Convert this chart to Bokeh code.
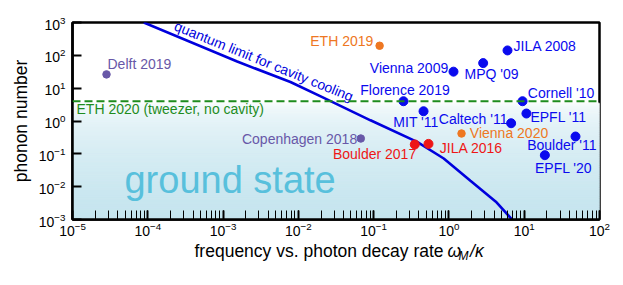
import numpy as np
from bokeh.plotting import figure
from bokeh.models import Span, Range1d
from bokeh.layouts import column
from bokeh.core.properties import value
from bokeh.embed import file_html
from bokeh.resources import INLINE

# ---------------- data ----------------
blue_labels = ["JILA 2008", "MPQ '09", "Vienna 2009", "Florence 2019", "Cornell '10",
               "MIT '11", "EPFL '11", "Caltech '11", "Boulder '11", "EPFL '20"]
blue_x = [6.0, 2.85, 1.15, 0.249, 9.5, 0.46, 10.7, 6.7, 48.0, 18.8]
blue_y = [141, 58, 31.8, 4.0, 4.0, 1.98, 1.69, 0.855, 0.337, 0.091]

red_labels = ["Boulder 2017", "JILA 2016"]
red_x = [0.352, 0.535]
red_y = [0.193, 0.201]

orange_labels = ["ETH 2019", "Vienna 2020"]
orange_x = [0.12, 1.47]
orange_y = [196, 0.416]

purple_labels = ["Delft 2019", "Copenhagen 2018"]
purple_x = [2.83e-5, 0.0675]
purple_y = [26.3, 0.293]

eth2020_n = 4.0

limit_ratio = [8.85e-5, 1.54e-3, 7.85e-3, 2.18e-2, 9.08e-2, 0.378, 0.853, 1.93, 4.2, 6.9]
limit_n = [1000, 64.7, 15.4, 5.05, 1.05, 0.231, 0.072, 0.0152, 0.0035, 0.001]

x_lo, x_hi = 1e-5, 1e2
y_lo, y_hi = 1e-3, 1e3
ground_top = 3.5  # gradient of "ground state" region starts just under this

# ---------------- styling ----------------
FONT = "Liberation Sans"
BLUE = "#0A0AEE"
RED = "#EE1616"
ORANGE = "#EE7722"
PURPLE = "#6858A8"
GREEN = "#1E8C1E"
CURVE = "#0000DD"

# label layout: (dx px, dy px downward, align)
LAYOUT = {
    "Delft 2019": (1, -10.7, "left"),
    "ETH 2019": (-6.3, -4.6, "right"),
    "JILA 2008": (6, -4.3, "left"),
    "MPQ '09": (-18.7, 10.6, "left"),
    "Vienna 2009": (-5.3, -3.6, "right"),
    "Florence 2019": (1.5, -11, "center"),
    "Cornell '10": (5.3, -8.3, "left"),
    "MIT '11": (15, 10.7, "right"),
    "Caltech '11": (-3.7, -4.7, "right"),
    "EPFL '11": (4, 3.4, "left"),
    "Vienna 2020": (8.3, -0.6, "left"),
    "Boulder '11": (21, 8.7, "right"),
    "EPFL '20": (18.7, 13.3, "center"),
    "Copenhagen 2018": (-3.6, 0, "right"),
    "Boulder 2017": (1.4, 9.7, "right"),
    "JILA 2016": (11.3, 4.6, "left"),
}

W = 615
H1 = 241
p = figure(width=W, height=H1, x_axis_type="log", y_axis_type="log",
           x_range=(x_lo, x_hi), y_range=(y_lo, y_hi),
           output_backend="svg", toolbar_location=None,
           min_border_left=72, min_border_right=16, min_border_top=22,
           min_border_bottom=H1 - 219)
p.grid.visible = False
p.outline_line_color = "black"
p.outline_line_width = 2.5
p.background_fill_color = "white"
p.border_fill_color = "white"

# gradient for ground-state region
nstr = 90
ltop, lbot = np.log10(ground_top), np.log10(y_lo)
edges = np.linspace(ltop, lbot, nstr + 1)
base = np.array([196, 228, 238])
white = np.array([255, 255, 255])
cols = []
for i in range(nstr):
    t = (ltop - 0.5 * (edges[i] + edges[i + 1])) / (ltop - lbot)
    f = t ** 0.45
    c = (white + f * (base - white)).round().astype(int)
    cols.append("#%02x%02x%02x" % tuple(c))
p.quad(left=[x_lo] * nstr, right=[x_hi] * nstr, top=list(10 ** edges[:-1]),
       bottom=list(10 ** edges[1:]), fill_color=cols, line_color=cols, line_width=1)

p.text(x=[4.9e-5], y=[0.0165], text=["ground state"], text_font=value(FONT),
       text_font_size="38px", text_color="#58C0DC", text_baseline="middle")

p.add_layout(Span(location=eth2020_n, dimension="width", line_color=GREEN,
                  line_dash="8 4", line_width=1.8))
p.text(x=[x_lo], y=[eth2020_n], text=["ETH 2020 (tweezer, no cavity)"], x_offset=4,
       y_offset=7.3, text_align="left", text_baseline="middle", text_font=value(FONT),
       text_font_size="14px", text_color=GREEN)

p.line(limit_ratio, limit_n, line_color=CURVE, line_width=2.6)
p.text(x=[3.6e-3], y=[60], text=["quantum limit for cavity cooling"], angle=-0.385,
       x_offset=-1, y_offset=-1.5,
       text_align="center", text_baseline="middle", text_font=value(FONT),
       text_font_size="14px", text_color=CURVE)

groups = [
    (purple_labels, purple_x, purple_y, PURPLE, 7.5),
    (orange_labels, orange_x, orange_y, ORANGE, 7.5),
    (blue_labels, blue_x, blue_y, BLUE, 9),
    (red_labels, red_x, red_y, RED, 9),
]
for labs, xs, ys, col, sz in groups:
    p.scatter(xs, ys, size=sz, fill_color=col, line_color=col)
    for i, lab in enumerate(labs):
        dx, dy, al = LAYOUT[lab]
        p.text(x=[xs[i]], y=[ys[i]], text=[lab], x_offset=dx, y_offset=dy,
               text_align=al, text_baseline="middle", text_font=value(FONT),
               text_font_size="14px", text_color=col)

# axes
for ax in (p.xaxis[0], p.yaxis[0]):
    ax.axis_line_width = 2.5
    ax.axis_line_color = "black"
    ax.major_tick_in = 9
    ax.major_tick_out = 0
    ax.major_tick_line_width = 2
    ax.major_label_text_font = FONT
    ax.major_label_text_font_size = "14px"
    ax.major_label_text_color = "black"
    ax.major_label_standoff = 3
p.xaxis.major_label_standoff = 2
p.xaxis.minor_tick_in = 9
p.xaxis.minor_tick_out = 0
p.xaxis.minor_tick_line_width = 1
p.yaxis.minor_tick_line_color = None
p.yaxis.axis_label = "phonon number"
p.yaxis.axis_label_text_font = FONT
p.yaxis.axis_label_text_font_size = "17.5px"
p.yaxis.axis_label_text_font_style = "normal"
p.yaxis.axis_label_text_color = "black"
p.yaxis.axis_label_standoff = 5

# x-axis label strip (plain text + italic ω_M/κ with subscript), pixel coordinates
H2 = 40
q = figure(width=W, height=H2, x_range=Range1d(0, W), y_range=Range1d(0, H2),
           output_backend="svg", toolbar_location=None,
           x_axis_location=None, y_axis_location=None,
           min_border_left=0, min_border_right=0, min_border_top=0, min_border_bottom=0)
q.grid.visible = False
q.outline_line_color = None
q.border_fill_color = "white"
q.background_fill_color = "white"
mid_y = H2 - (250.5 - H1)
parts = [  # (text, x, vertical shift, size, style, align)
    ("frequency vs. photon decay rate", 433, 0, "17.5px", "normal", "right"),
    ("ω", 437.5, 0, "17.5px", "italic", "left"),
    ("M", 450.5, -5, "12px", "italic", "left"),
    ("/κ", 464, 0, "17.5px", "italic", "left"),
]
for txt, xx, sh, fs, st, al in parts:
    q.text(x=[xx], y=[mid_y + sh], text=[txt], text_font=value(FONT), text_font_size=fs,
           text_font_style=st, text_align=al, text_baseline="middle", text_color="black")

open("out.html", "w").write(file_html(column(p, q), INLINE))
